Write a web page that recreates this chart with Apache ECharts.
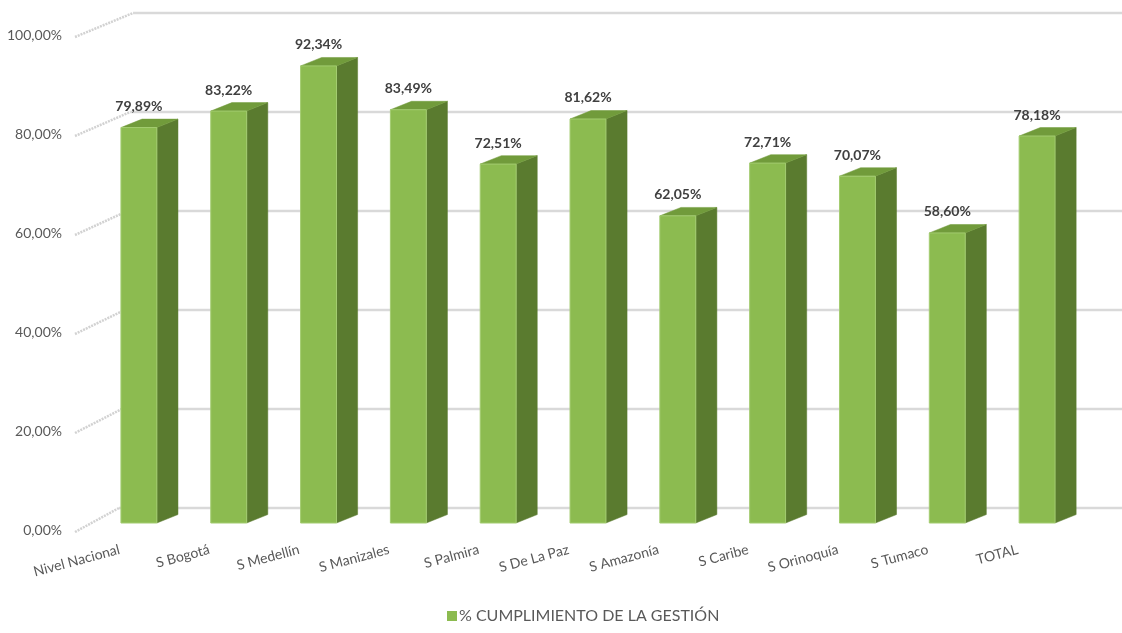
<!DOCTYPE html>
<html>
<head>
<meta charset="utf-8">
<script src="https://cdn.jsdelivr.net/npm/echarts@6/dist/echarts.min.js"></script>
<style>
html,body{margin:0;padding:0;background:#fff;}
#c{width:1122px;height:633px;}
</style>
</head>
<body>
<div id="c"></div>
<script>
var categories = ['Nivel Nacional','S Bogotá','S Medellín','S Manizales','S Palmira','S De La Paz','S Amazonía','S Caribe','S Orinoquía','S Tumaco','TOTAL'];
var values = [79.89,83.22,92.34,83.49,72.51,81.62,62.05,72.71,70.07,58.60,78.18];
var yTicks = [0,20,40,60,80,100];
var seriesName = '% CUMPLIMIENTO DE LA GESTIÓN';

var FONT = 'Lato, "Open Sans", sans-serif';
var FRONT = '#8cbb50', SIDE = '#5a7b2f', TOP = '#719b3b';

function fmt(v){ return v.toFixed(2).replace('.', ',') + '%'; }

var chart = echarts.init(document.getElementById('c'), null, {renderer:'canvas'});

var option = {
  animation:false,
  backgroundColor:'#fff',
  textStyle:{fontFamily:FONT},
  legend:{
    bottom:4, left:442,
    itemWidth:10, itemHeight:10, itemGap:4,
    icon:'rect',
    textStyle:{fontFamily:FONT, fontSize:16, color:'#595959', padding:[0,0,0,-3]},
    data:[{name:seriesName, itemStyle:{color:FRONT}}]
  },
  grid:{left:94, right:40, top:28, bottom:110},
  xAxis:{
    type:'category',
    data:categories,
    axisLine:{show:false}, axisTick:{show:false}, splitLine:{show:false},
    axisLabel:{
      interval:0, rotate:15, margin:21,
      fontFamily:FONT, fontSize:14, color:'#595959',
      padding:[0,20,0,0]
    }
  },
  yAxis:{
    type:'value', min:0, max:100, interval:20,
    axisLine:{show:false}, axisTick:{show:false}, splitLine:{show:false},
    axisLabel:{
      margin:32, fontFamily:FONT, fontSize:14, color:'#595959',
      verticalAlign:'top',
      formatter:function(v){ return v.toFixed(2).replace('.', ',') + '%'; }
    }
  },
  series:[
    {
      type:'custom',
      name:'grid',
      silent:true,
      z:1,
      data: yTicks.map(function(t){ return [0, t]; }),
      renderItem:function(params, api){
        var cs = params.coordSys;
        var v = api.value(1);
        var y = api.coord([0, v])[1];
        var x0 = cs.x - 19;
        var x1 = cs.x + 25 + 14 * (v/100);
        var yb = y - 15;
        return {
          type:'group',
          children:[
            {type:'polyline', shape:{points:[[x0, y + 9],[x1, yb]]},
             style:{stroke:'#d2d2d2', lineWidth:2.5, lineDash:[2,1], fill:null}},
            {type:'line', shape:{x1:x1, y1:yb, x2:1122, y2:yb},
             style:{stroke:'#d9d9d9', lineWidth:2.5}}
          ]
        };
      }
    },
    {
      type:'custom',
      name:seriesName,
      z:2,
      itemStyle:{color:FRONT},
      data: values.map(function(v, i){ return [i, v]; }),
      renderItem:function(params, api){
        var i = api.value(0), v = api.value(1);
        var band = api.size([1, 0])[0];
        var w = band * 0.4;
        var d = band * 0.235;
        var dy = d * 0.4;
        var pTop = api.coord([i, v]);
        var pBot = api.coord([i, 0]);
        var xl = pTop[0] - w/2, xr = pTop[0] + w/2;
        var yt = pTop[1], yb = pBot[1];
        return {
          type:'group',
          children:[
            {type:'polygon', shape:{points:[[xr,yt],[xr+d,yt-dy],[xr+d,yb-dy],[xr,yb]]},
             style:{fill:SIDE, stroke:SIDE, lineWidth:0.5}},
            {type:'polygon', shape:{points:[[xl,yt],[xl+d,yt-dy],[xr+d,yt-dy],[xr,yt]]},
             style:{fill:TOP, stroke:TOP, lineWidth:0.5}},
            {type:'rect', shape:{x:xl, y:yt, width:w, height:yb-yt},
             style:{fill:FRONT, stroke:'#a3cc70', lineWidth:1}},
            {type:'text', x:pTop[0], y:yt - 21,
             style:{text:fmt(v), align:'center', verticalAlign:'middle',
                    fontFamily:FONT, fontSize:14, fontWeight:'bold', fill:'#404040'}}
          ]
        };
      }
    }
  ]
};
chart.setOption(option);
</script>
</body>
</html>
